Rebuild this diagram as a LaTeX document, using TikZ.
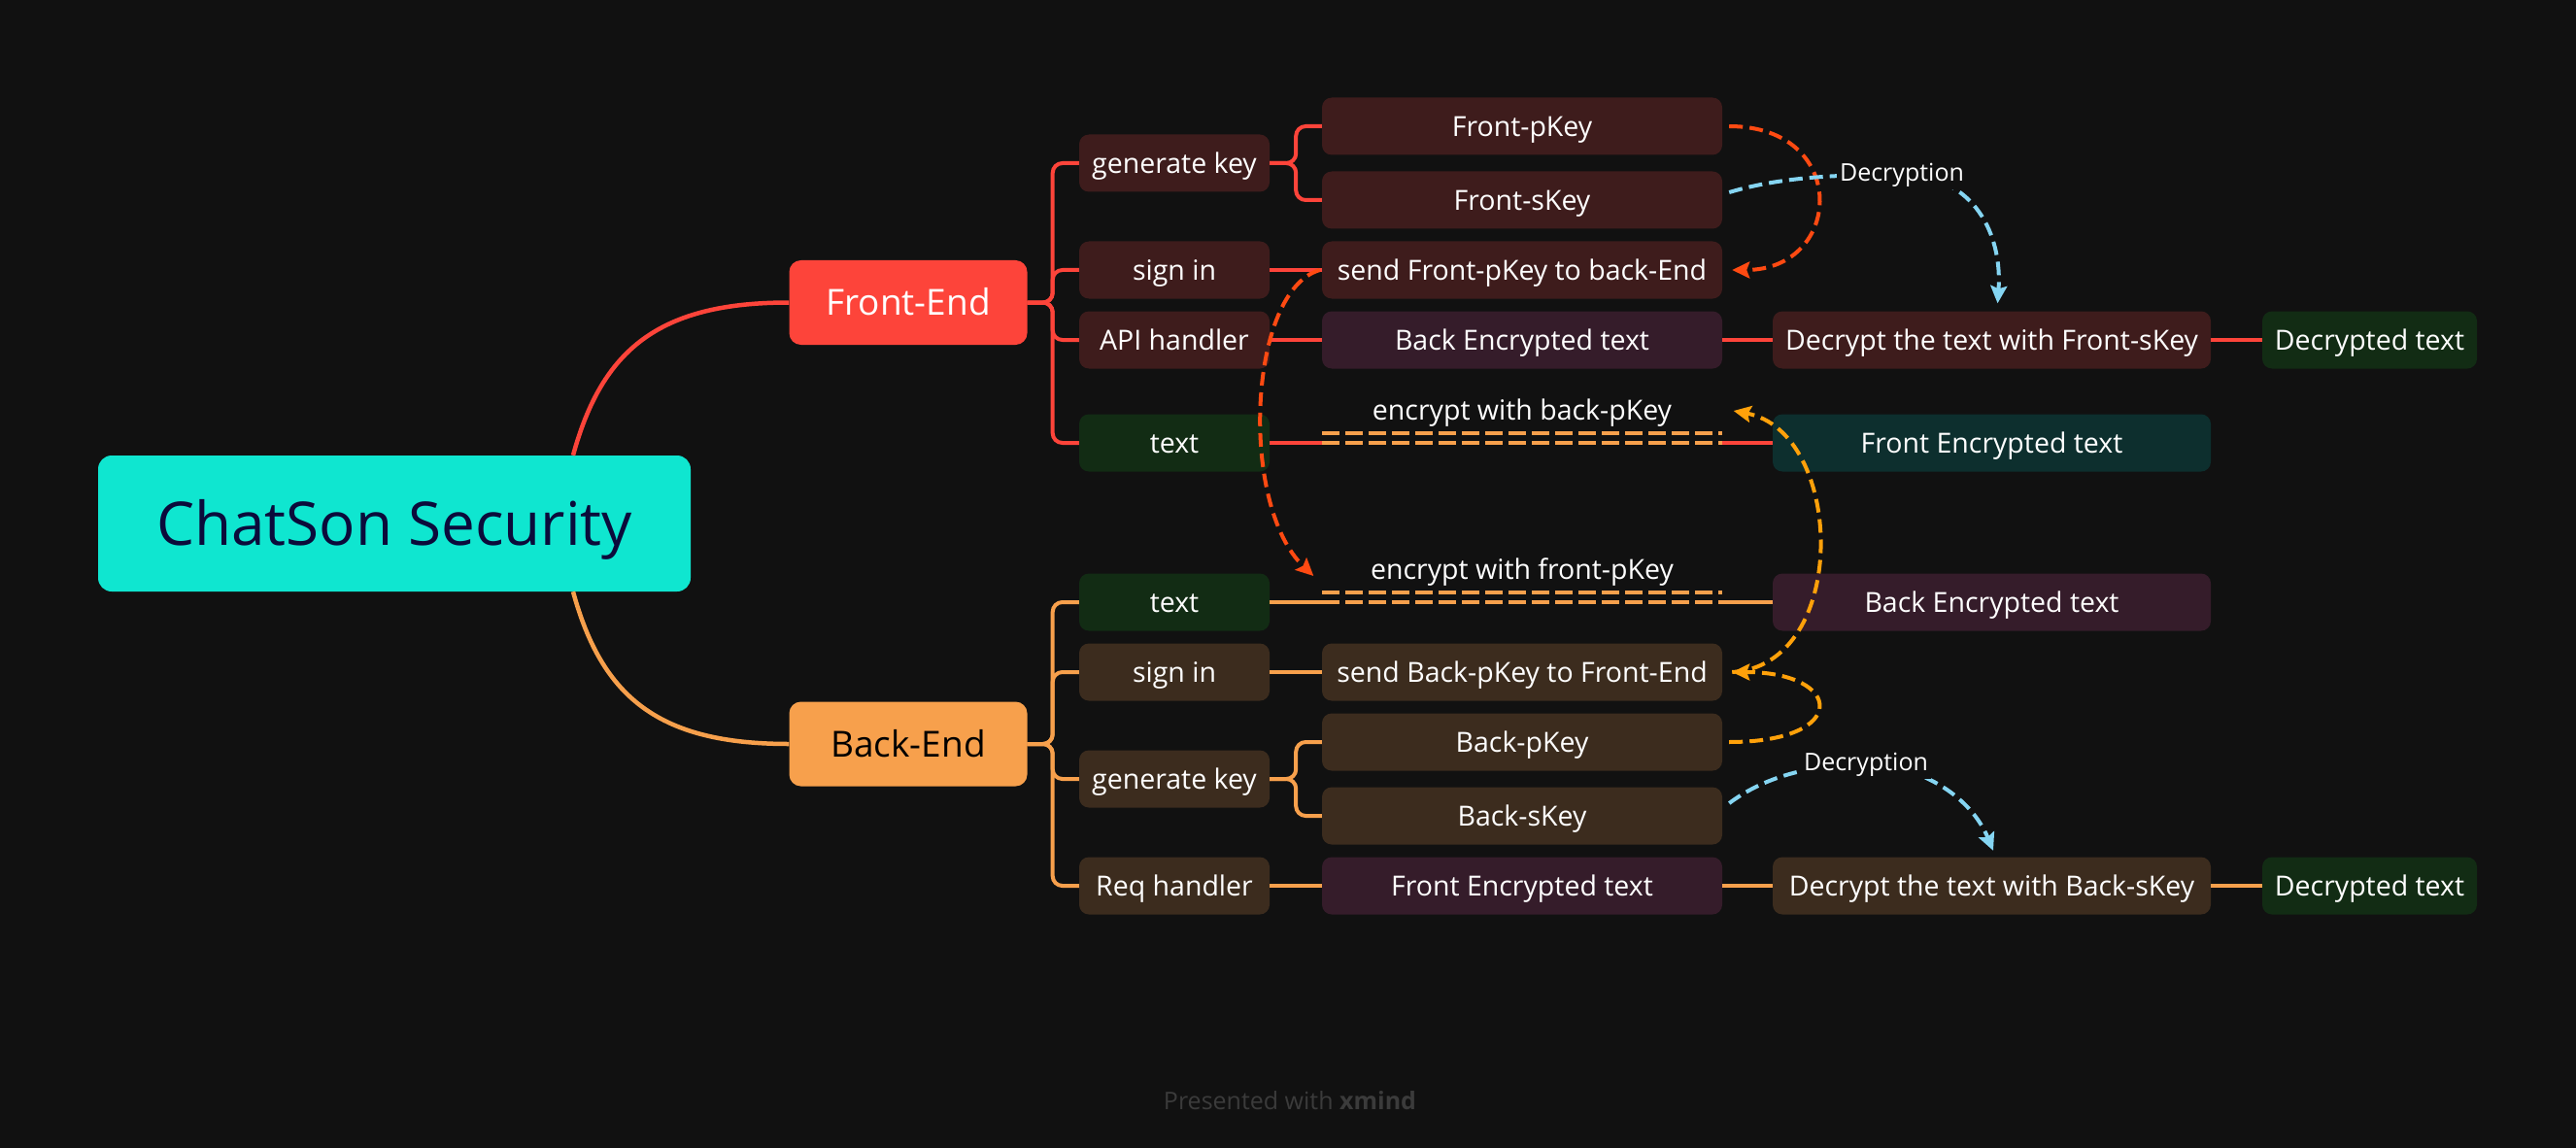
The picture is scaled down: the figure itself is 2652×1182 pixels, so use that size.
\documentclass[tikz,border=0pt]{standalone}
\usepackage{fontspec}
\setmainfont{Open Sans}
\usetikzlibrary{arrows.meta}
\definecolor{bg}{HTML}{111111}
\definecolor{rootc}{HTML}{0FE6D0}
\definecolor{roottext}{HTML}{0B0B3B}
\definecolor{redc}{HTML}{FD443A}
\definecolor{orc}{HTML}{F7A04C}
\definecolor{fboxc}{HTML}{3E1C1C}
\definecolor{bboxc}{HTML}{3C2C1E}
\definecolor{purp}{HTML}{351C2A}
\definecolor{grn}{HTML}{122C14}
\definecolor{teal}{HTML}{0D2F2E}
\definecolor{dred}{HTML}{FF4A12}
\definecolor{dor}{HTML}{FFA10A}
\definecolor{cyanc}{HTML}{85D5F2}
\definecolor{footc}{HTML}{3B3B3B}
\newcommand\boxfont{\fontsize{28.5}{34}\selectfont}
\tikzset{
  box/.style={rounded corners=10pt, inner sep=0pt, text=white, font=\boxfont, minimum height=59pt, text height=20.3pt, text depth=0pt},
  cA/.style={box, minimum width=196pt},
  cB/.style={box, minimum width=412pt},
  cC/.style={box, minimum width=451pt},
  cD/.style={box, minimum width=221pt},
  lbl/.style={inner sep=0pt, text=white, font=\boxfont, minimum width=411pt, text height=20.3pt, text depth=0pt},
  mainbox/.style={rounded corners=12pt, minimum width=245pt, minimum height=87pt, inner sep=0pt, font=\fontsize{37}{44}\selectfont, text height=26.4pt, text depth=0pt},
  conn/.style={line width=4pt},
  busline/.style={line width=4pt, rounded corners=10pt},
  dbl/.style={line width=4pt, orc, dash pattern=on 18pt off 6pt},
  dashcurve/.style={line width=4pt, dash pattern=on 14pt off 7pt, -{Stealth[length=18pt,width=17pt,inset=3pt]}},
  declbl/.style={fill=bg, inner sep=3pt, text=white, font=\fontsize{25}{30}\selectfont},
}
\begin{document}
\begin{tikzpicture}[x=1pt,y=-1pt]
\fill[bg] (0,0) rectangle (2652,1182);
% root and main branches
\node[rounded corners=14pt, fill=rootc, text=roottext, minimum width=610pt, minimum height=140pt, inner sep=0pt, font=\fontsize{62}{72}\selectfont, text height=44.3pt, text depth=0pt] (rt) at (406,539) {ChatSon Security};
\node[mainbox, fill=redc, text=white] (fe) at (935,311.5) {Front-End};
\node[mainbox, fill=orc, text=black] (be) at (935,766) {Back-End};
% Front-End branch
\node[cA, fill=fboxc] (fgk) at (1209,168) {generate key};
\node[cA, fill=fboxc] (fsi) at (1209,278) {sign in};
\node[cA, fill=fboxc] (fapi) at (1209,350) {API handler};
\node[cA, fill=grn] (ftx) at (1209,456) {text};
\node[cB, fill=fboxc] (fpk) at (1567,130) {Front-pKey};
\node[cB, fill=fboxc] (fsk) at (1567,206) {Front-sKey};
\node[cB, fill=fboxc] (fsend) at (1567,278) {send Front-pKey to back-End};
\node[cB, fill=purp] (fbet) at (1567,350) {Back Encrypted text};
\node[lbl] (fenc) at (1567,422) {encrypt with back-pKey};
\node[cC, fill=fboxc] (fdec) at (2050.5,350) {Decrypt the text with Front-sKey};
\node[cD, fill=grn] (fdtx) at (2439.5,350) {Decrypted text};
\node[cC, fill=teal] (ffet) at (2050.5,456) {Front Encrypted text};
% Back-End branch
\node[cA, fill=grn] (btx) at (1209,620) {text};
\node[cA, fill=bboxc] (bsi) at (1209,692) {sign in};
\node[cA, fill=bboxc] (bgk) at (1209,802) {generate key};
\node[cA, fill=bboxc] (brq) at (1209,912) {Req handler};
\node[lbl] (benc) at (1567,586) {encrypt with front-pKey};
\node[cC, fill=purp] (bbet) at (2050.5,620) {Back Encrypted text};
\node[cB, fill=bboxc] (bsend) at (1567,692) {send Back-pKey to Front-End};
\node[cB, fill=bboxc] (bpk) at (1567,764) {Back-pKey};
\node[cB, fill=bboxc] (bsk) at (1567,840) {Back-sKey};
\node[cB, fill=purp] (bfet) at (1567,912) {Front Encrypted text};
\node[cC, fill=bboxc] (bdec) at (2050.5,912) {Decrypt the text with Back-sKey};
\node[cD, fill=grn] (bdtx) at (2439.5,912) {Decrypted text};
% root curves
\draw[redc, line width=4.5pt] ([xshift=184pt]rt.north) .. controls +(30,-110) and +(-133,0) .. (fe.west);
\draw[orc, line width=4.5pt] ([xshift=184pt]rt.south) .. controls +(30,110) and +(-133,0) .. (be.west);
% Front buses
\foreach \c in {fgk,fsi,fapi,ftx} \draw[busline, redc] (fe.east) -- ++(26,0) |- (\c.west);
\foreach \c in {fpk,fsk} \draw[busline, redc] (fgk.east) -- ++(27,0) |- (\c.west);
\draw[conn, redc] (fsi.east) -- (fsend.west);
\draw[conn, redc] (fapi.east) -- (fbet.west);
\draw[conn, redc] (fbet.east) -- (fdec.west);
\draw[conn, redc] (fdec.east) -- (fdtx.west);
\coordinate (fa) at (fenc.west |- ftx.east);
\coordinate (fb) at (fenc.east |- ftx.east);
\draw[conn, redc] (ftx.east) -- (fa);
\draw[conn, redc] (fb) -- (ffet.west);
\draw[dbl] (fa) -- (fb);
\draw[dbl] ([yshift=10pt]fa) -- ([yshift=10pt]fb);
% Back buses
\foreach \c in {btx,bsi,bgk,brq} \draw[busline, orc] (be.east) -- ++(26,0) |- (\c.west);
\foreach \c in {bpk,bsk} \draw[busline, orc] (bgk.east) -- ++(27,0) |- (\c.west);
\draw[conn, orc] (bsi.east) -- (bsend.west);
\draw[conn, orc] (brq.east) -- (bfet.west);
\draw[conn, orc] (bfet.east) -- (bdec.west);
\draw[conn, orc] (bdec.east) -- (bdtx.west);
\coordinate (ba) at (benc.west |- btx.east);
\coordinate (bb) at (benc.east |- btx.east);
\draw[conn, orc] (btx.east) -- (ba);
\draw[conn, orc] (bb) -- (bbet.west);
\draw[dbl] (ba) -- (bb);
\draw[dbl] ([yshift=10pt]ba) -- ([yshift=10pt]bb);
% dashed relation curves
\draw[dashcurve, dred] ([xshift=7pt]fpk.east) .. controls +(125,0) and +(115,0) .. ([xshift=10pt]fsend.east);
\draw[dashcurve, dred] ([xshift=-2pt]fsend.west) .. controls +(-74,21) and +(-77,-73) .. ([xshift=-9pt,yshift=-7pt]benc.west);
\draw[dashcurve, dor] ([xshift=7pt]bpk.east) .. controls +(125,0) and +(115,0) .. ([xshift=10pt]bsend.east);
\draw[dashcurve, dor] ([xshift=10pt]bsend.east) .. controls +(122,-7) and +(115,22) .. ([xshift=12pt,yshift=-1pt]fenc.east);
% Decryption curves
\node[declbl] (fdl) at (1958,180) {Decryption};
\node[declbl] (bdl) at (1921,787) {Decryption};
\draw[cyanc, line width=4pt, dash pattern=on 14pt off 7pt] ([xshift=7pt,yshift=8pt]fsk.east) .. controls +(60,-18) and +(-50,0) .. (fdl.center);
\draw[dashcurve, cyanc] (fdl.center) .. controls +(75,0) and +(5,-70) .. ([xshift=6pt,yshift=8pt]fdec.north);
\draw[cyanc, line width=4pt, dash pattern=on 14pt off 7pt] ([xshift=7pt,yshift=13pt]bsk.east) .. controls +(40,-30) and +(-50,0) .. (bdl.center);
\draw[dashcurve, cyanc] (bdl.center) .. controls +(50,0) and +(-25,-60) .. ([xshift=1.5pt,yshift=6.5pt]bdec.north);
\node[declbl] at (fdl) {Decryption};
\node[declbl] at (bdl) {Decryption};
% footer
\node[text=footc, font=\fontsize{25}{30}\selectfont, inner sep=0pt] (foot) at (1328,1133) {Presented with \textbf{xmind}};
\end{tikzpicture}
\end{document}
